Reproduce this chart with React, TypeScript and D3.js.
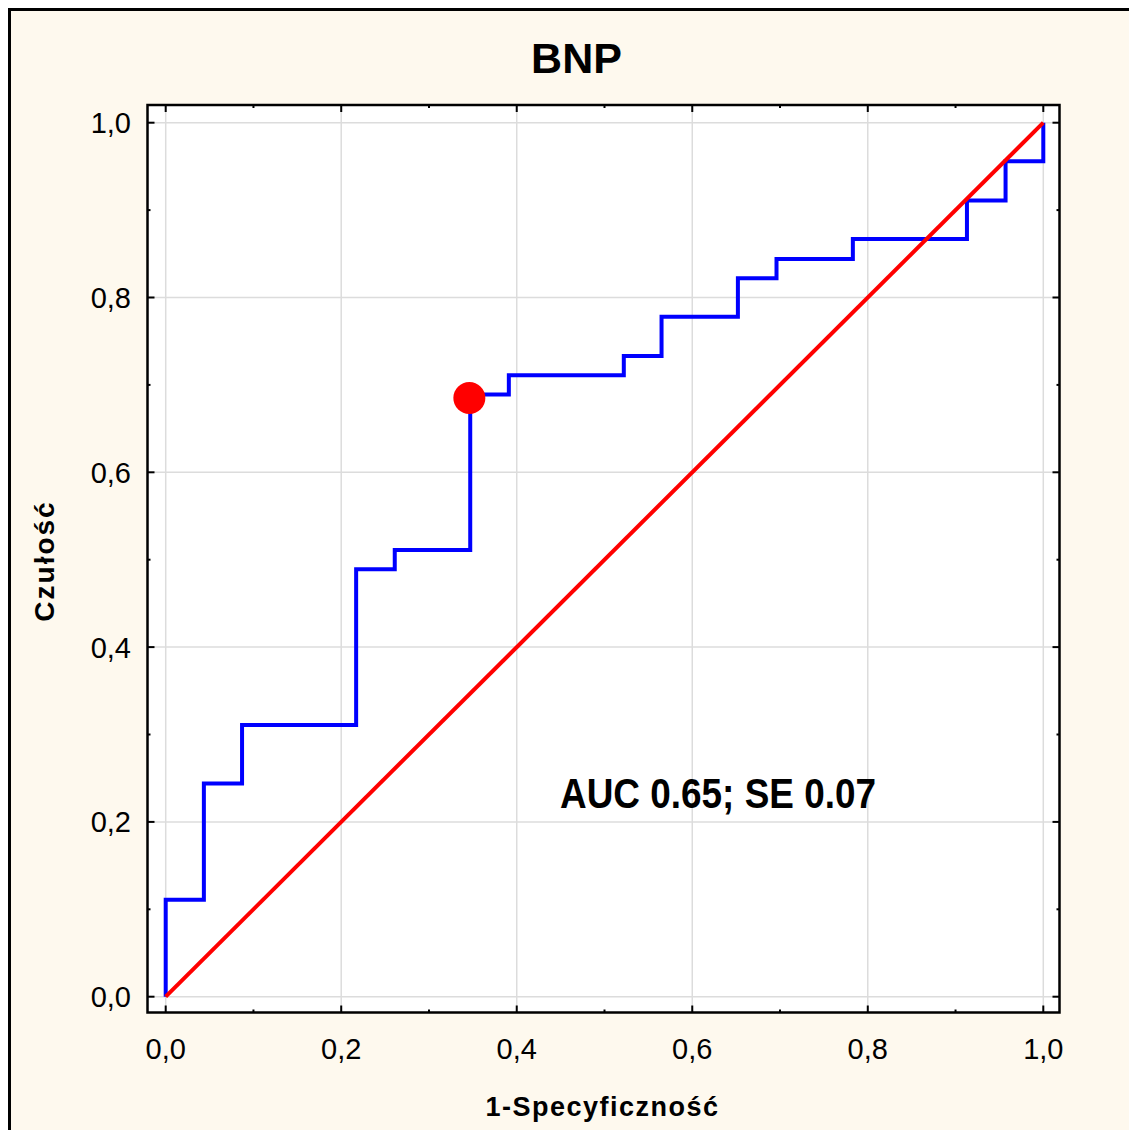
import React from "react";
import * as d3 from "d3";

const title = "BNP";
const xLabel = "1-Specyficzność";
const yLabel = "Czułość";
const aucText = "AUC 0.65; SE 0.07";

// ROC step corners (1-specificity, sensitivity)
const fprValues = [0, 0.0435, 0.087, 0.217, 0.261, 0.347, 0.391, 0.522, 0.565, 0.652, 0.696, 0.783, 0.913, 0.957, 1.0, 1.0];
const tprValues = [0, 0.111, 0.244, 0.311, 0.489, 0.511, 0.689, 0.711, 0.733, 0.778, 0.822, 0.844, 0.867, 0.911, 0.956, 1.0];

const cutoffPoint = { fpr: 0.346, tpr: 0.685 };
const majorTicks = [0, 0.2, 0.4, 0.6, 0.8, 1.0];
const minorTicks = [0.1, 0.3, 0.5, 0.7, 0.9];
const diagonal = [0, 1];

const W = 1129;
const H = 1130;

export default function App() {
  const x = d3.scaleLinear().domain([0, 1]).range([165.7, 1043.3]);
  const y = d3.scaleLinear().domain([0, 1]).range([996.7, 122.7]);
  const frame = { x0: 147.5, y0: 105, x1: 1059.5, y1: 1012.5 };
  const fmt = (v: number) => v.toFixed(1).replace(".", ",");

  const pts = fprValues.map((f, i) => [f, tprValues[i]] as [number, number]);
  const line = d3
    .line<[number, number]>()
    .x((d) => x(d[0]))
    .y((d) => y(d[1]))
    .curve(d3.curveStepBefore);
  const diagLine = d3
    .line<number>()
    .x((d) => x(d))
    .y((d) => y(d));

  const font = "'Liberation Sans', Arial, sans-serif";
  const major = 7;
  const minor = 3;

  return (
    <svg
      width={W}
      height={H}
      style={{ position: "absolute", left: 0, top: 0 }}
      fontFamily={font}
    >
      <rect x={0} y={0} width={W} height={H} fill="#ffffff" />
      <rect x={9.5} y={9.5} width={W + 20} height={H + 20} fill="#fef9ee" stroke="#000" strokeWidth={3} />
      <rect
        x={frame.x0}
        y={frame.y0}
        width={frame.x1 - frame.x0}
        height={frame.y1 - frame.y0}
        fill="#ffffff"
      />
      {/* grid */}
      {majorTicks.map((t) => (
        <g key={"g" + t}>
          <line x1={x(t)} x2={x(t)} y1={frame.y0} y2={frame.y1} stroke="#dcdcdc" strokeWidth={1.5} />
          <line x1={frame.x0} x2={frame.x1} y1={y(t)} y2={y(t)} stroke="#dcdcdc" strokeWidth={1.5} />
        </g>
      ))}
      {/* ticks */}
      {majorTicks.map((t) => (
        <g key={"t" + t} stroke="#000" strokeWidth={2}>
          <line x1={x(t)} x2={x(t)} y1={frame.y1} y2={frame.y1 - major} />
          <line x1={x(t)} x2={x(t)} y1={frame.y0} y2={frame.y0 + major} />
          <line x1={frame.x0} x2={frame.x0 + major} y1={y(t)} y2={y(t)} />
          <line x1={frame.x1} x2={frame.x1 - major} y1={y(t)} y2={y(t)} />
        </g>
      ))}
      {minorTicks.map((t) => (
        <g key={"m" + t} stroke="#000" strokeWidth={2}>
          <line x1={x(t)} x2={x(t)} y1={frame.y1} y2={frame.y1 - minor} />
          <line x1={x(t)} x2={x(t)} y1={frame.y0} y2={frame.y0 + minor} />
          <line x1={frame.x0} x2={frame.x0 + minor} y1={y(t)} y2={y(t)} />
          <line x1={frame.x1} x2={frame.x1 - minor} y1={y(t)} y2={y(t)} />
        </g>
      ))}
      {/* curves */}
      <path d={line(pts) || ""} fill="none" stroke="#0000ff" strokeWidth={4} strokeLinejoin="miter" />
      <path d={diagLine(diagonal) || ""} fill="none" stroke="#ff0000" strokeWidth={4} />
      <circle cx={x(cutoffPoint.fpr)} cy={y(cutoffPoint.tpr)} r={16} fill="#ff0000" />
      {/* frame */}
      <rect
        x={frame.x0}
        y={frame.y0}
        width={frame.x1 - frame.x0}
        height={frame.y1 - frame.y0}
        fill="none"
        stroke="#000"
        strokeWidth={2.5}
      />
      {/* tick labels */}
      {majorTicks.map((t) => (
        <text key={"xl" + t} x={x(t)} y={1058.5} textAnchor="middle" fontSize={29} fill="#000">
          {fmt(t)}
        </text>
      ))}
      {majorTicks.map((t) => (
        <text key={"yl" + t} x={131} y={y(t) + 10.5} textAnchor="end" fontSize={29} fill="#000">
          {fmt(t)}
        </text>
      ))}
      {/* titles */}
      <text x={576.5} y={73.3} textAnchor="middle" fontSize={43} fontWeight="bold" fill="#000">
        {title}
      </text>
      <text
        x={602.5}
        y={1115.7}
        textAnchor="middle"
        fontSize={27}
        fontWeight="bold"
        letterSpacing={1.5}
        fill="#000"
      >
        {xLabel}
      </text>
      <text
        transform={`translate(54,561) rotate(-90)`}
        textAnchor="middle"
        fontSize={28}
        fontWeight="bold"
        letterSpacing={2}
        fill="#000"
      >
        {yLabel}
      </text>
      <text
        x={560}
        y={807.7}
        fontSize={42}
        fontWeight="bold"
        textLength={316}
        lengthAdjust="spacingAndGlyphs"
        fill="#000"
      >
        {aucText}
      </text>
    </svg>
  );
}
